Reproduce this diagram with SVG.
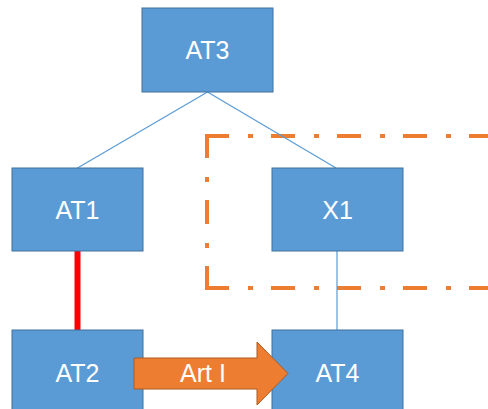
<svg xmlns="http://www.w3.org/2000/svg" width="488" height="409" viewBox="0 0 488 409">
<style>
.node rect{fill:#5B9BD5;stroke:#41719C;stroke-width:1}
text{font-family:"Liberation Sans",Arial,sans-serif;font-size:25px;fill:#fff;text-anchor:middle}
.thin{stroke:#5B9BD5;stroke-width:1.2;fill:none}
.dash{stroke:#ED7D31;stroke-width:4;fill:none;stroke-dasharray:24 19 5 18}
</style>
<rect width="488" height="409" fill="#fff"/>
<g id="group-box">
<line class="dash" x1="205" y1="136" x2="500" y2="136"/>
<line class="dash" x1="207" y1="134" x2="207" y2="290"/>
<line class="dash" x1="205" y1="288" x2="500" y2="288"/>
</g>
<g id="connectors">
<line class="thin" x1="207.5" y1="92" x2="77.5" y2="168"/>
<line class="thin" x1="207.5" y1="92" x2="336" y2="168"/>
<line class="thin" x1="337" y1="251" x2="337" y2="330"/>
<line x1="77.5" y1="251" x2="77.5" y2="330" stroke="#FF0000" stroke-width="6"/>
</g>
<g id="AT3" class="node"><rect x="142" y="8" width="131" height="84"/><text x="207.5" y="58.5">AT3</text></g>
<g id="AT1" class="node"><rect x="12" y="168" width="131" height="83"/><text x="77.5" y="218.5">AT1</text></g>
<g id="X1" class="node"><rect x="272" y="168" width="131" height="83"/><text x="337.5" y="218.5">X1</text></g>
<g id="AT2" class="node"><rect x="12" y="330" width="131" height="90"/><text x="77.5" y="381.5">AT2</text></g>
<g id="AT4" class="node"><rect x="272" y="330" width="131" height="90"/><text x="337.5" y="381.5">AT4</text></g>
<g id="ArtI">
<path d="M134,358 H257 V342 L288,373.5 L257,405 V389 H134 Z" fill="#ED7D31" stroke="#AE5A21" stroke-width="1"/>
<text x="203" y="381.5">Art I</text>
</g>
</svg>
